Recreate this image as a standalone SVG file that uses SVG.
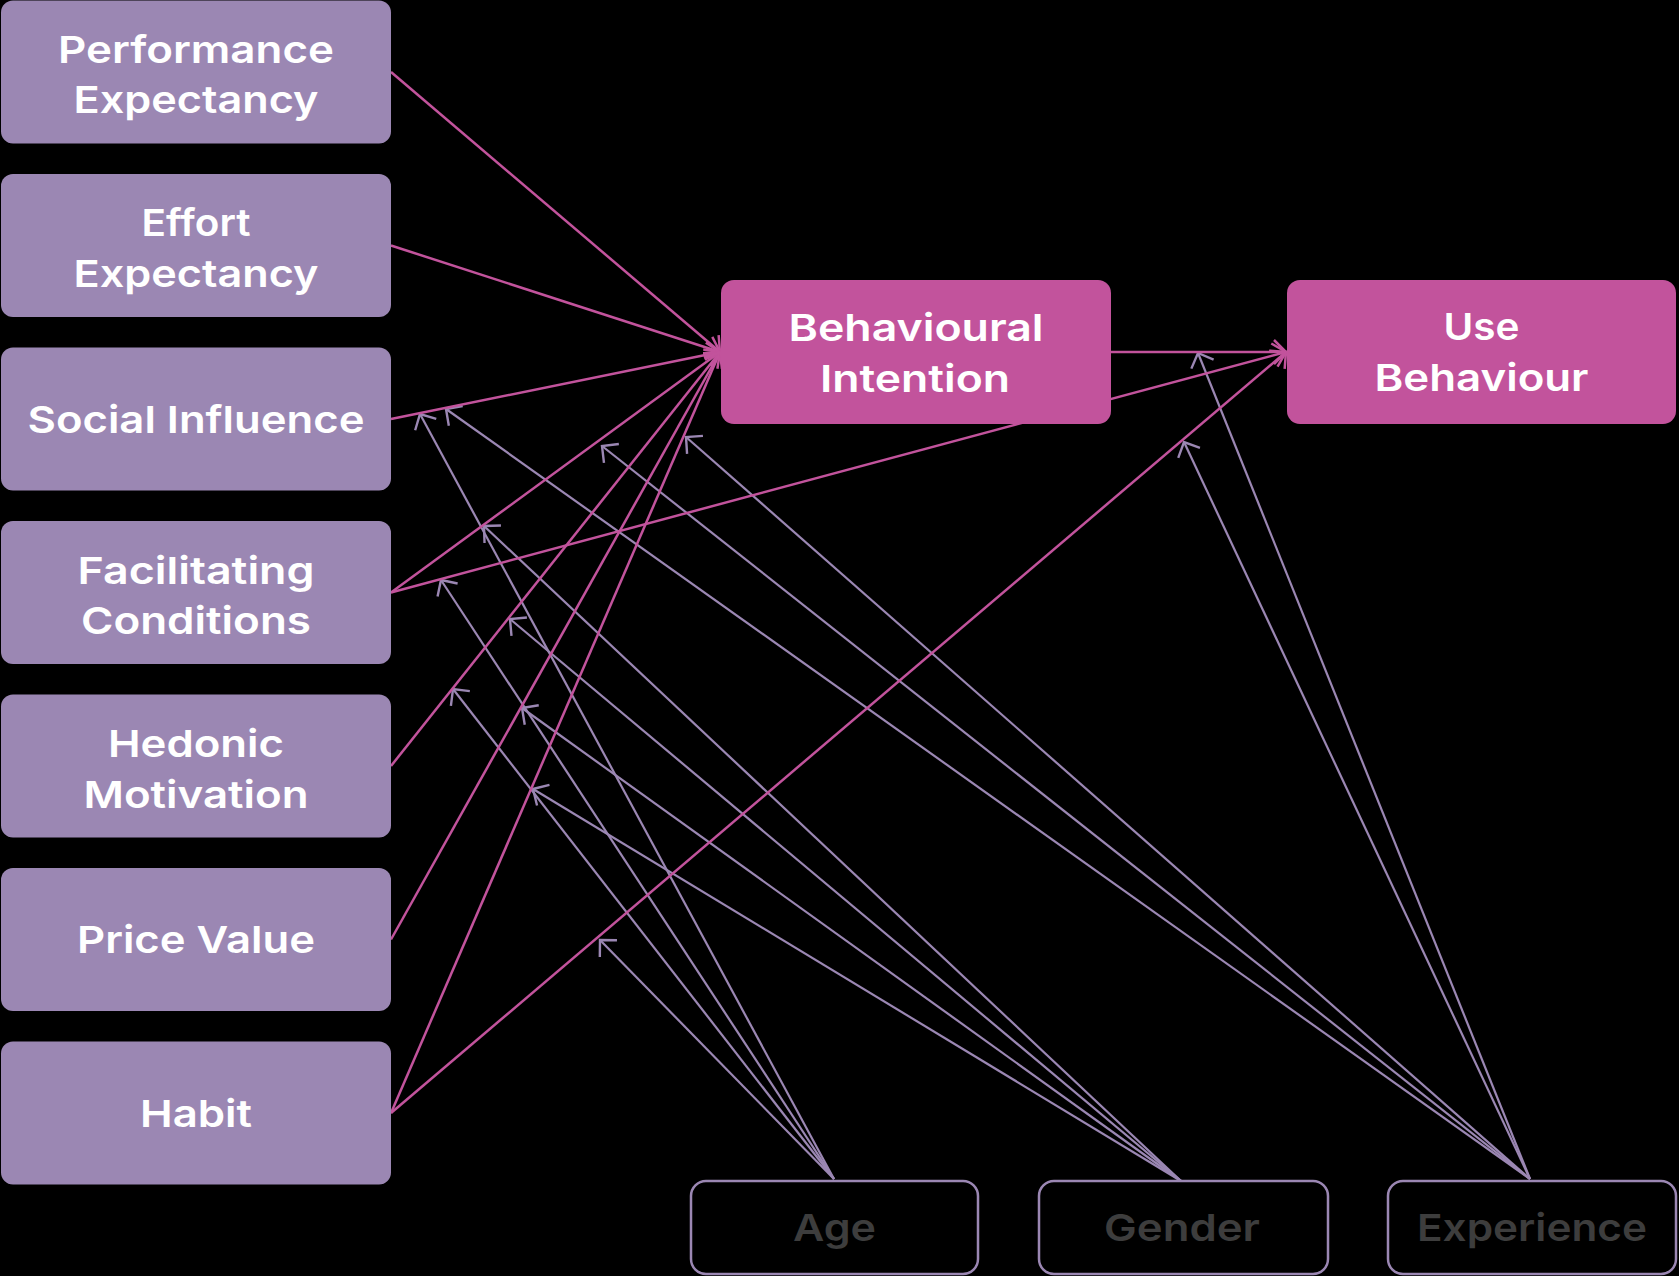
<svg xmlns="http://www.w3.org/2000/svg" width="1679" height="1276" viewBox="0 0 1679 1276">
  <style>
    .factor { fill: #9b87b3; }
    .outcome { fill: #c2539c; }
    .moderator { fill: none; stroke: #9b87b3; stroke-width: 2.5; }
    .label { font-family: Inter, "Noto Sans", "Liberation Sans", sans-serif; font-weight: 600; font-size: 37.5px; text-anchor: middle; fill: #ffffff; }
    .mod-label { fill: #3d3d3d; }
    .pk { stroke: #c2539c; stroke-width: 2.5; fill: none; marker-end: url(#ah-pink); }
    .pu { stroke: #9b87b3; stroke-width: 2.2; fill: none; marker-end: url(#ah-purple); }
  </style>
  <defs>
    <marker id="ah-pink" viewBox="-16 -16 20 32" refX="0" refY="0" markerWidth="20" markerHeight="32" markerUnits="userSpaceOnUse" orient="auto" overflow="visible">
      <path d="M-12,-12 L0,0 L-12,12" fill="none" stroke="#c2539c" stroke-width="2.5"/>
    </marker>
    <marker id="ah-purple" viewBox="-16 -16 20 32" refX="0" refY="0" markerWidth="20" markerHeight="32" markerUnits="userSpaceOnUse" orient="auto" overflow="visible">
      <path d="M-12,-12 L0,0 L-12,12" fill="none" stroke="#9b87b3" stroke-width="2.4"/>
    </marker>
  </defs>

  <rect x="0" y="0" width="1679" height="1276" fill="#000000"/>

  <g id="connectors">
    <!-- moderating effects: Age -->
    <line class="pu" x1="834" y1="1179" x2="420" y2="414"/>
    <line class="pu" x1="834" y1="1179" x2="441" y2="580"/>
    <line class="pu" x1="834" y1="1179" x2="453" y2="689"/>
    <line class="pu" x1="834" y1="1179" x2="600" y2="940"/>
    <!-- moderating effects: Gender -->
    <line class="pu" x1="1181" y1="1181" x2="484" y2="526"/>
    <line class="pu" x1="1181" y1="1181" x2="510" y2="619"/>
    <line class="pu" x1="1181" y1="1181" x2="522" y2="708"/>
    <line class="pu" x1="1181" y1="1181" x2="533" y2="789"/>
    <!-- moderating effects: Experience -->
    <line class="pu" x1="1530" y1="1179" x2="446" y2="409"/>
    <line class="pu" x1="1530" y1="1179" x2="602" y2="446"/>
    <line class="pu" x1="1530" y1="1179" x2="686" y2="437"/>
    <line class="pu" x1="1530" y1="1179" x2="1198" y2="353"/>
    <line class="pu" x1="1530" y1="1179" x2="1184" y2="442"/>

    <!-- direct effects on Behavioural Intention -->
    <line class="pk" x1="391" y1="72" x2="720" y2="352"/>
    <line class="pk" x1="391" y1="245.5" x2="720" y2="352"/>
    <line class="pk" x1="391" y1="419" x2="720" y2="352"/>
    <line class="pk" x1="391" y1="592.5" x2="720" y2="352"/>
    <line class="pk" x1="391" y1="766" x2="720" y2="352"/>
    <line class="pk" x1="391" y1="939.5" x2="720" y2="352"/>
    <line class="pk" x1="391" y1="1113" x2="720" y2="352"/>
    <!-- direct effects on Use Behaviour -->
    <line class="pk" x1="391" y1="1113" x2="1286" y2="352"/>
    <line class="pk" x1="391" y1="592.5" x2="1286" y2="352"/>
    <line class="pk" x1="1111" y1="352" x2="1286" y2="352"/>
  </g>

  <g id="performance-expectancy">
    <rect class="factor" x="1" y="0.5" width="390" height="143" rx="12"/>
    <text class="label" x="196" y="62.5" textLength="276" lengthAdjust="spacingAndGlyphs">Performance</text>
    <text class="label" x="196" y="112.5" textLength="245" lengthAdjust="spacingAndGlyphs">Expectancy</text>
  </g>
  <g id="effort-expectancy">
    <rect class="factor" x="1" y="174" width="390" height="143" rx="12"/>
    <text class="label" x="196" y="236" textLength="109" lengthAdjust="spacingAndGlyphs">Effort</text>
    <text class="label" x="196" y="286.5" textLength="245" lengthAdjust="spacingAndGlyphs">Expectancy</text>
  </g>
  <g id="social-influence">
    <rect class="factor" x="1" y="347.5" width="390" height="143" rx="12"/>
    <text class="label" x="196" y="432.5" textLength="337" lengthAdjust="spacingAndGlyphs">Social Influence</text>
  </g>
  <g id="facilitating-conditions">
    <rect class="factor" x="1" y="521" width="390" height="143" rx="12"/>
    <text class="label" x="196" y="583.5" textLength="237" lengthAdjust="spacingAndGlyphs">Facilitating</text>
    <text class="label" x="196" y="634" textLength="230" lengthAdjust="spacingAndGlyphs">Conditions</text>
  </g>
  <g id="hedonic-motivation">
    <rect class="factor" x="1" y="694.5" width="390" height="143" rx="12"/>
    <text class="label" x="196" y="757" textLength="176" lengthAdjust="spacingAndGlyphs">Hedonic</text>
    <text class="label" x="196" y="807.5" textLength="225" lengthAdjust="spacingAndGlyphs">Motivation</text>
  </g>
  <g id="price-value">
    <rect class="factor" x="1" y="868" width="390" height="143" rx="12"/>
    <text class="label" x="196" y="953" textLength="238" lengthAdjust="spacingAndGlyphs">Price Value</text>
  </g>
  <g id="habit">
    <rect class="factor" x="1" y="1041.5" width="390" height="143" rx="12"/>
    <text class="label" x="196" y="1126.5" textLength="112" lengthAdjust="spacingAndGlyphs">Habit</text>
  </g>

  <g id="behavioural-intention">
    <rect class="outcome" x="721" y="280" width="390" height="144" rx="13"/>
    <text class="label" x="916" y="341" textLength="255" lengthAdjust="spacingAndGlyphs">Behavioural</text>
    <text class="label" x="915" y="391.5" textLength="190" lengthAdjust="spacingAndGlyphs">Intention</text>
  </g>
  <g id="use-behaviour">
    <rect class="outcome" x="1287" y="280" width="389" height="144" rx="13"/>
    <text class="label" x="1481.5" y="340" textLength="76" lengthAdjust="spacingAndGlyphs">Use</text>
    <text class="label" x="1481.5" y="391" textLength="214" lengthAdjust="spacingAndGlyphs">Behaviour</text>
  </g>

  <g id="age">
    <rect class="moderator" x="691" y="1181" width="287" height="93" rx="15"/>
    <text class="label mod-label" x="834.5" y="1240.5" textLength="83" lengthAdjust="spacingAndGlyphs">Age</text>
  </g>
  <g id="gender">
    <rect class="moderator" x="1039" y="1181" width="289" height="93" rx="15"/>
    <text class="label mod-label" x="1182" y="1240.5" textLength="156" lengthAdjust="spacingAndGlyphs">Gender</text>
  </g>
  <g id="experience">
    <rect class="moderator" x="1388" y="1181" width="288" height="93" rx="15"/>
    <text class="label mod-label" x="1532" y="1240.5" textLength="230" lengthAdjust="spacingAndGlyphs">Experience</text>
  </g>
</svg>
